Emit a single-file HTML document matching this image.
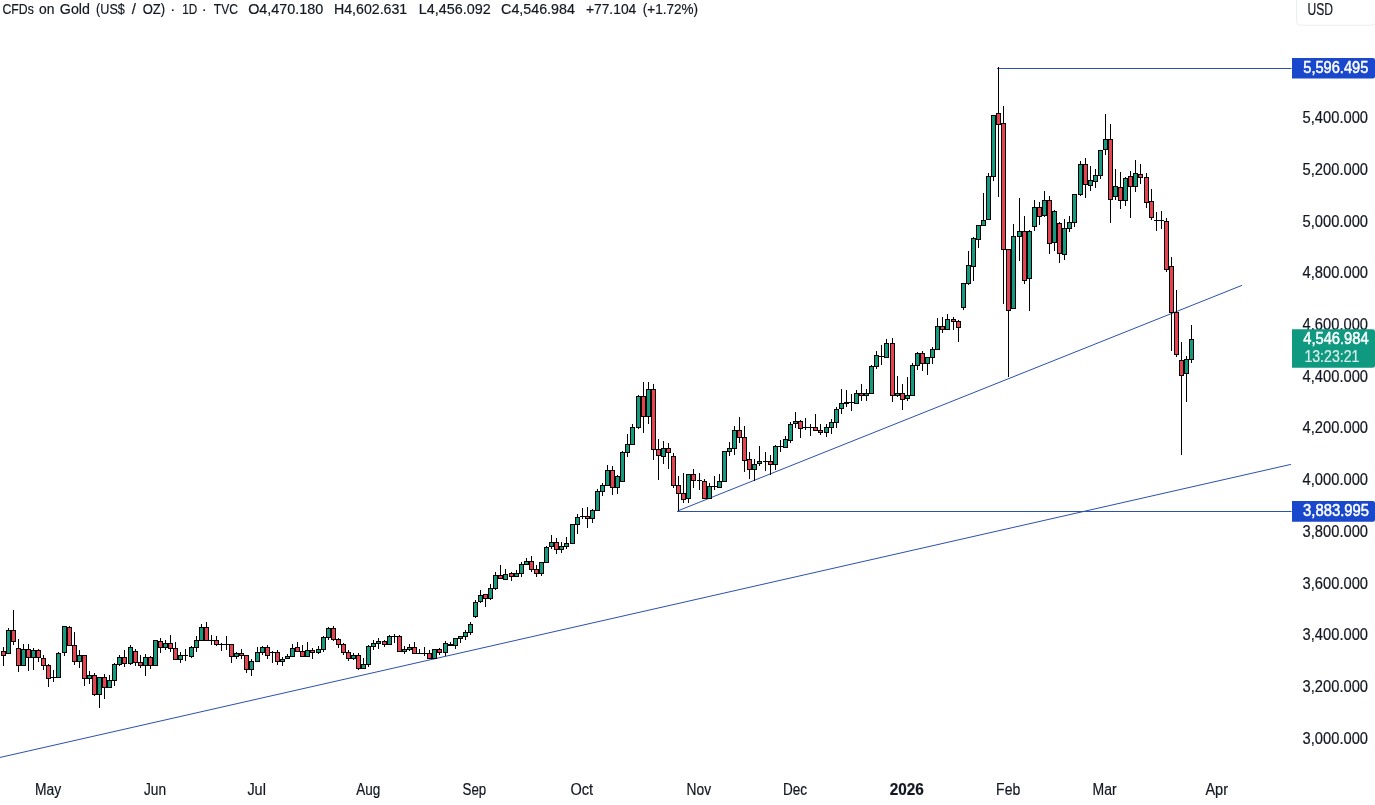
<!DOCTYPE html>
<html lang="en"><head><meta charset="utf-8"><title>CFDs on Gold (US$ / OZ) 1D TVC</title>
<style>
html,body{margin:0;padding:0;background:#fff;}
body{width:1375px;height:805px;overflow:hidden;}
svg{display:block;font-family:"Liberation Sans", Arial, sans-serif;}
</style></head><body>
<svg width="1375" height="805" viewBox="0 0 1375 805">
<rect width="1375" height="805" fill="#fff"/>

<g stroke="#2b50b0" stroke-width="1" fill="none">
<line x1="-2" y1="757.9" x2="1290.9" y2="464.4"/>
<line x1="678.5" y1="510.6" x2="1242.1" y2="285.3"/>
</g>
<rect x="997" y="68" width="294.5" height="1" fill="#2b50b0"/>
<rect x="677" y="511" width="614.5" height="1" fill="#2b50b0"/>

<g fill="#000">
<rect x="3" y="647" width="1" height="4"/>
<rect x="3" y="656" width="1" height="10"/>
<rect x="1" y="651" width="5" height="5"/>
<rect x="2" y="652" width="3" height="3" fill="#e4434f"/>
<rect x="8" y="628" width="1" height="2"/>
<rect x="6" y="630" width="5" height="24"/>
<rect x="7" y="631" width="3" height="22" fill="#159a7f"/>
<rect x="13" y="610" width="1" height="20"/>
<rect x="13" y="642" width="1" height="3"/>
<rect x="11" y="630" width="5" height="12"/>
<rect x="12" y="631" width="3" height="10" fill="#e4434f"/>
<rect x="18" y="639" width="1" height="9"/>
<rect x="18" y="666" width="1" height="6"/>
<rect x="16" y="648" width="5" height="18"/>
<rect x="17" y="649" width="3" height="16" fill="#e4434f"/>
<rect x="23" y="644" width="1" height="5"/>
<rect x="21" y="649" width="5" height="17"/>
<rect x="22" y="650" width="3" height="15" fill="#159a7f"/>
<rect x="28" y="644" width="1" height="5"/>
<rect x="28" y="658" width="1" height="13"/>
<rect x="26" y="649" width="5" height="9"/>
<rect x="27" y="650" width="3" height="7" fill="#e4434f"/>
<rect x="33" y="648" width="1" height="2"/>
<rect x="33" y="658" width="1" height="12"/>
<rect x="31" y="650" width="5" height="8"/>
<rect x="32" y="651" width="3" height="6" fill="#159a7f"/>
<rect x="38" y="649" width="1" height="1"/>
<rect x="38" y="658" width="1" height="4"/>
<rect x="36" y="650" width="5" height="8"/>
<rect x="37" y="651" width="3" height="6" fill="#e4434f"/>
<rect x="43" y="655" width="1" height="3"/>
<rect x="43" y="666" width="1" height="4"/>
<rect x="41" y="658" width="5" height="8"/>
<rect x="42" y="659" width="3" height="6" fill="#e4434f"/>
<rect x="48" y="664" width="1" height="1"/>
<rect x="48" y="679" width="1" height="8"/>
<rect x="46" y="665" width="5" height="14"/>
<rect x="47" y="666" width="3" height="12" fill="#e4434f"/>
<rect x="53" y="670" width="1" height="7"/>
<rect x="53" y="678" width="1" height="4"/>
<rect x="51" y="677" width="5" height="1"/>
<rect x="58" y="652" width="1" height="1"/>
<rect x="56" y="653" width="5" height="25"/>
<rect x="57" y="654" width="3" height="23" fill="#159a7f"/>
<rect x="64" y="653" width="1" height="3"/>
<rect x="62" y="626" width="5" height="27"/>
<rect x="63" y="627" width="3" height="25" fill="#159a7f"/>
<rect x="69" y="626" width="1" height="1"/>
<rect x="67" y="627" width="5" height="19"/>
<rect x="68" y="628" width="3" height="17" fill="#e4434f"/>
<rect x="74" y="632" width="1" height="13"/>
<rect x="74" y="662" width="1" height="3"/>
<rect x="72" y="645" width="5" height="17"/>
<rect x="73" y="646" width="3" height="15" fill="#e4434f"/>
<rect x="79" y="650" width="1" height="5"/>
<rect x="79" y="662" width="1" height="6"/>
<rect x="77" y="655" width="5" height="7"/>
<rect x="78" y="656" width="3" height="5" fill="#159a7f"/>
<rect x="84" y="679" width="1" height="7"/>
<rect x="82" y="655" width="5" height="24"/>
<rect x="83" y="656" width="3" height="22" fill="#e4434f"/>
<rect x="89" y="671" width="1" height="4"/>
<rect x="89" y="679" width="1" height="5"/>
<rect x="87" y="675" width="5" height="4"/>
<rect x="88" y="676" width="3" height="2" fill="#159a7f"/>
<rect x="94" y="673" width="1" height="2"/>
<rect x="94" y="695" width="1" height="1"/>
<rect x="92" y="675" width="5" height="20"/>
<rect x="93" y="676" width="3" height="18" fill="#e4434f"/>
<rect x="99" y="695" width="1" height="13"/>
<rect x="97" y="677" width="5" height="18"/>
<rect x="98" y="678" width="3" height="16" fill="#159a7f"/>
<rect x="104" y="674" width="1" height="3"/>
<rect x="104" y="688" width="1" height="11"/>
<rect x="102" y="677" width="5" height="11"/>
<rect x="103" y="678" width="3" height="9" fill="#e4434f"/>
<rect x="109" y="675" width="1" height="5"/>
<rect x="107" y="680" width="5" height="8"/>
<rect x="108" y="681" width="3" height="6" fill="#159a7f"/>
<rect x="114" y="663" width="1" height="1"/>
<rect x="114" y="681" width="1" height="5"/>
<rect x="112" y="664" width="5" height="17"/>
<rect x="113" y="665" width="3" height="15" fill="#159a7f"/>
<rect x="119" y="655" width="1" height="2"/>
<rect x="119" y="665" width="1" height="1"/>
<rect x="117" y="657" width="5" height="8"/>
<rect x="118" y="658" width="3" height="6" fill="#159a7f"/>
<rect x="124" y="650" width="1" height="7"/>
<rect x="124" y="664" width="1" height="3"/>
<rect x="122" y="657" width="5" height="7"/>
<rect x="123" y="658" width="3" height="5" fill="#e4434f"/>
<rect x="130" y="645" width="1" height="2"/>
<rect x="130" y="664" width="1" height="1"/>
<rect x="128" y="647" width="5" height="17"/>
<rect x="129" y="648" width="3" height="15" fill="#159a7f"/>
<rect x="135" y="649" width="1" height="2"/>
<rect x="135" y="663" width="1" height="3"/>
<rect x="133" y="651" width="5" height="12"/>
<rect x="134" y="652" width="3" height="10" fill="#e4434f"/>
<rect x="140" y="655" width="1" height="7"/>
<rect x="140" y="666" width="1" height="2"/>
<rect x="138" y="662" width="5" height="4"/>
<rect x="139" y="663" width="3" height="2" fill="#e4434f"/>
<rect x="145" y="654" width="1" height="3"/>
<rect x="145" y="666" width="1" height="10"/>
<rect x="143" y="657" width="5" height="9"/>
<rect x="144" y="658" width="3" height="7" fill="#159a7f"/>
<rect x="150" y="656" width="1" height="1"/>
<rect x="150" y="666" width="1" height="3"/>
<rect x="148" y="657" width="5" height="9"/>
<rect x="149" y="658" width="3" height="7" fill="#e4434f"/>
<rect x="153" y="640" width="5" height="26"/>
<rect x="154" y="641" width="3" height="24" fill="#159a7f"/>
<rect x="160" y="638" width="1" height="3"/>
<rect x="160" y="648" width="1" height="5"/>
<rect x="158" y="641" width="5" height="7"/>
<rect x="159" y="642" width="3" height="5" fill="#e4434f"/>
<rect x="165" y="640" width="1" height="3"/>
<rect x="165" y="648" width="1" height="2"/>
<rect x="163" y="643" width="5" height="5"/>
<rect x="164" y="644" width="3" height="3" fill="#159a7f"/>
<rect x="170" y="635" width="1" height="8"/>
<rect x="170" y="649" width="1" height="3"/>
<rect x="168" y="643" width="5" height="6"/>
<rect x="169" y="644" width="3" height="4" fill="#e4434f"/>
<rect x="175" y="642" width="1" height="6"/>
<rect x="173" y="648" width="5" height="12"/>
<rect x="174" y="649" width="3" height="10" fill="#e4434f"/>
<rect x="180" y="652" width="1" height="3"/>
<rect x="180" y="660" width="1" height="3"/>
<rect x="178" y="655" width="5" height="5"/>
<rect x="179" y="656" width="3" height="3" fill="#159a7f"/>
<rect x="185" y="649" width="1" height="6"/>
<rect x="185" y="656" width="1" height="5"/>
<rect x="183" y="655" width="5" height="1"/>
<rect x="191" y="646" width="1" height="1"/>
<rect x="191" y="657" width="1" height="1"/>
<rect x="189" y="647" width="5" height="10"/>
<rect x="190" y="648" width="3" height="8" fill="#159a7f"/>
<rect x="196" y="636" width="1" height="4"/>
<rect x="196" y="648" width="1" height="4"/>
<rect x="194" y="640" width="5" height="8"/>
<rect x="195" y="641" width="3" height="6" fill="#159a7f"/>
<rect x="201" y="624" width="1" height="3"/>
<rect x="199" y="627" width="5" height="14"/>
<rect x="200" y="628" width="3" height="12" fill="#159a7f"/>
<rect x="206" y="622" width="1" height="5"/>
<rect x="204" y="627" width="5" height="14"/>
<rect x="205" y="628" width="3" height="12" fill="#e4434f"/>
<rect x="211" y="635" width="1" height="5"/>
<rect x="211" y="641" width="1" height="4"/>
<rect x="209" y="640" width="5" height="1"/>
<rect x="216" y="636" width="1" height="4"/>
<rect x="216" y="645" width="1" height="1"/>
<rect x="214" y="640" width="5" height="5"/>
<rect x="215" y="641" width="3" height="3" fill="#e4434f"/>
<rect x="221" y="643" width="1" height="1"/>
<rect x="221" y="645" width="1" height="6"/>
<rect x="219" y="644" width="5" height="1"/>
<rect x="226" y="636" width="1" height="8"/>
<rect x="226" y="645" width="1" height="5"/>
<rect x="224" y="644" width="5" height="1"/>
<rect x="231" y="657" width="1" height="6"/>
<rect x="229" y="644" width="5" height="13"/>
<rect x="230" y="645" width="3" height="11" fill="#e4434f"/>
<rect x="236" y="652" width="1" height="1"/>
<rect x="236" y="657" width="1" height="2"/>
<rect x="234" y="653" width="5" height="4"/>
<rect x="235" y="654" width="3" height="2" fill="#159a7f"/>
<rect x="241" y="649" width="1" height="4"/>
<rect x="241" y="656" width="1" height="3"/>
<rect x="239" y="653" width="5" height="3"/>
<rect x="240" y="654" width="3" height="1" fill="#e4434f"/>
<rect x="246" y="670" width="1" height="3"/>
<rect x="244" y="655" width="5" height="15"/>
<rect x="245" y="656" width="3" height="13" fill="#e4434f"/>
<rect x="251" y="659" width="1" height="2"/>
<rect x="251" y="670" width="1" height="6"/>
<rect x="249" y="661" width="5" height="9"/>
<rect x="250" y="662" width="3" height="7" fill="#159a7f"/>
<rect x="257" y="647" width="1" height="5"/>
<rect x="255" y="652" width="5" height="10"/>
<rect x="256" y="653" width="3" height="8" fill="#159a7f"/>
<rect x="262" y="646" width="1" height="1"/>
<rect x="262" y="653" width="1" height="2"/>
<rect x="260" y="647" width="5" height="6"/>
<rect x="261" y="648" width="3" height="4" fill="#159a7f"/>
<rect x="267" y="645" width="1" height="2"/>
<rect x="267" y="656" width="1" height="3"/>
<rect x="265" y="647" width="5" height="9"/>
<rect x="266" y="648" width="3" height="7" fill="#e4434f"/>
<rect x="272" y="651" width="1" height="1"/>
<rect x="272" y="653" width="1" height="10"/>
<rect x="270" y="652" width="5" height="1"/>
<rect x="277" y="650" width="1" height="2"/>
<rect x="277" y="662" width="1" height="3"/>
<rect x="275" y="652" width="5" height="10"/>
<rect x="276" y="653" width="3" height="8" fill="#e4434f"/>
<rect x="282" y="657" width="1" height="2"/>
<rect x="282" y="662" width="1" height="4"/>
<rect x="280" y="659" width="5" height="3"/>
<rect x="281" y="660" width="3" height="1" fill="#159a7f"/>
<rect x="287" y="654" width="1" height="2"/>
<rect x="285" y="656" width="5" height="3"/>
<rect x="286" y="657" width="3" height="1" fill="#159a7f"/>
<rect x="292" y="644" width="1" height="4"/>
<rect x="290" y="648" width="5" height="9"/>
<rect x="291" y="649" width="3" height="7" fill="#159a7f"/>
<rect x="297" y="642" width="1" height="5"/>
<rect x="295" y="647" width="5" height="5"/>
<rect x="296" y="648" width="3" height="3" fill="#e4434f"/>
<rect x="302" y="645" width="1" height="6"/>
<rect x="300" y="651" width="5" height="6"/>
<rect x="301" y="652" width="3" height="4" fill="#e4434f"/>
<rect x="307" y="642" width="1" height="8"/>
<rect x="305" y="650" width="5" height="7"/>
<rect x="306" y="651" width="3" height="5" fill="#159a7f"/>
<rect x="312" y="648" width="1" height="2"/>
<rect x="312" y="653" width="1" height="6"/>
<rect x="310" y="650" width="5" height="3"/>
<rect x="311" y="651" width="3" height="1" fill="#e4434f"/>
<rect x="318" y="646" width="1" height="3"/>
<rect x="318" y="653" width="1" height="1"/>
<rect x="316" y="649" width="5" height="4"/>
<rect x="317" y="650" width="3" height="2" fill="#159a7f"/>
<rect x="323" y="636" width="1" height="1"/>
<rect x="323" y="650" width="1" height="2"/>
<rect x="321" y="637" width="5" height="13"/>
<rect x="322" y="638" width="3" height="11" fill="#159a7f"/>
<rect x="328" y="627" width="1" height="1"/>
<rect x="328" y="638" width="1" height="2"/>
<rect x="326" y="628" width="5" height="10"/>
<rect x="327" y="629" width="3" height="8" fill="#159a7f"/>
<rect x="333" y="626" width="1" height="2"/>
<rect x="333" y="640" width="1" height="1"/>
<rect x="331" y="628" width="5" height="12"/>
<rect x="332" y="629" width="3" height="10" fill="#e4434f"/>
<rect x="338" y="638" width="1" height="1"/>
<rect x="338" y="645" width="1" height="3"/>
<rect x="336" y="639" width="5" height="6"/>
<rect x="337" y="640" width="3" height="4" fill="#e4434f"/>
<rect x="343" y="643" width="1" height="1"/>
<rect x="343" y="653" width="1" height="2"/>
<rect x="341" y="644" width="5" height="9"/>
<rect x="342" y="645" width="3" height="7" fill="#e4434f"/>
<rect x="348" y="650" width="1" height="2"/>
<rect x="348" y="659" width="1" height="2"/>
<rect x="346" y="652" width="5" height="7"/>
<rect x="347" y="653" width="3" height="5" fill="#e4434f"/>
<rect x="353" y="653" width="1" height="2"/>
<rect x="353" y="659" width="1" height="1"/>
<rect x="351" y="655" width="5" height="4"/>
<rect x="352" y="656" width="3" height="2" fill="#159a7f"/>
<rect x="358" y="653" width="1" height="2"/>
<rect x="358" y="669" width="1" height="1"/>
<rect x="356" y="655" width="5" height="14"/>
<rect x="357" y="656" width="3" height="12" fill="#e4434f"/>
<rect x="363" y="658" width="1" height="6"/>
<rect x="361" y="664" width="5" height="5"/>
<rect x="362" y="665" width="3" height="3" fill="#159a7f"/>
<rect x="368" y="645" width="1" height="1"/>
<rect x="368" y="665" width="1" height="2"/>
<rect x="366" y="646" width="5" height="19"/>
<rect x="367" y="647" width="3" height="17" fill="#159a7f"/>
<rect x="373" y="640" width="1" height="3"/>
<rect x="373" y="647" width="1" height="3"/>
<rect x="371" y="643" width="5" height="4"/>
<rect x="372" y="644" width="3" height="2" fill="#159a7f"/>
<rect x="378" y="638" width="1" height="3"/>
<rect x="378" y="644" width="1" height="5"/>
<rect x="376" y="641" width="5" height="3"/>
<rect x="377" y="642" width="3" height="1" fill="#159a7f"/>
<rect x="384" y="640" width="1" height="1"/>
<rect x="384" y="645" width="1" height="2"/>
<rect x="382" y="641" width="5" height="4"/>
<rect x="383" y="642" width="3" height="2" fill="#e4434f"/>
<rect x="389" y="635" width="1" height="1"/>
<rect x="387" y="636" width="5" height="9"/>
<rect x="388" y="637" width="3" height="7" fill="#159a7f"/>
<rect x="394" y="634" width="1" height="2"/>
<rect x="394" y="637" width="1" height="6"/>
<rect x="392" y="636" width="5" height="1"/>
<rect x="399" y="635" width="1" height="1"/>
<rect x="397" y="636" width="5" height="16"/>
<rect x="398" y="637" width="3" height="14" fill="#e4434f"/>
<rect x="404" y="646" width="1" height="3"/>
<rect x="404" y="652" width="1" height="2"/>
<rect x="402" y="649" width="5" height="3"/>
<rect x="403" y="650" width="3" height="1" fill="#159a7f"/>
<rect x="409" y="644" width="1" height="3"/>
<rect x="409" y="650" width="1" height="1"/>
<rect x="407" y="647" width="5" height="3"/>
<rect x="408" y="648" width="3" height="1" fill="#159a7f"/>
<rect x="414" y="642" width="1" height="5"/>
<rect x="412" y="647" width="5" height="7"/>
<rect x="413" y="648" width="3" height="5" fill="#e4434f"/>
<rect x="419" y="649" width="1" height="4"/>
<rect x="417" y="653" width="5" height="1"/>
<rect x="424" y="647" width="1" height="6"/>
<rect x="424" y="654" width="1" height="2"/>
<rect x="422" y="653" width="5" height="1"/>
<rect x="429" y="650" width="1" height="3"/>
<rect x="427" y="653" width="5" height="6"/>
<rect x="428" y="654" width="3" height="4" fill="#e4434f"/>
<rect x="432" y="649" width="5" height="10"/>
<rect x="433" y="650" width="3" height="8" fill="#159a7f"/>
<rect x="439" y="648" width="1" height="1"/>
<rect x="439" y="653" width="1" height="2"/>
<rect x="437" y="649" width="5" height="4"/>
<rect x="438" y="650" width="3" height="2" fill="#e4434f"/>
<rect x="445" y="641" width="1" height="2"/>
<rect x="445" y="653" width="1" height="3"/>
<rect x="443" y="643" width="5" height="10"/>
<rect x="444" y="644" width="3" height="8" fill="#159a7f"/>
<rect x="450" y="642" width="1" height="2"/>
<rect x="448" y="644" width="5" height="2"/>
<rect x="455" y="646" width="1" height="3"/>
<rect x="453" y="638" width="5" height="8"/>
<rect x="454" y="639" width="3" height="6" fill="#159a7f"/>
<rect x="460" y="639" width="1" height="4"/>
<rect x="458" y="636" width="5" height="3"/>
<rect x="459" y="637" width="3" height="1" fill="#159a7f"/>
<rect x="465" y="630" width="1" height="2"/>
<rect x="465" y="637" width="1" height="3"/>
<rect x="463" y="632" width="5" height="5"/>
<rect x="464" y="633" width="3" height="3" fill="#159a7f"/>
<rect x="470" y="622" width="1" height="2"/>
<rect x="470" y="633" width="1" height="2"/>
<rect x="468" y="624" width="5" height="9"/>
<rect x="469" y="625" width="3" height="7" fill="#159a7f"/>
<rect x="475" y="600" width="1" height="2"/>
<rect x="475" y="617" width="1" height="1"/>
<rect x="473" y="602" width="5" height="15"/>
<rect x="474" y="603" width="3" height="13" fill="#159a7f"/>
<rect x="480" y="590" width="1" height="5"/>
<rect x="480" y="602" width="1" height="1"/>
<rect x="478" y="595" width="5" height="7"/>
<rect x="479" y="596" width="3" height="5" fill="#159a7f"/>
<rect x="485" y="599" width="1" height="8"/>
<rect x="483" y="594" width="5" height="5"/>
<rect x="484" y="595" width="3" height="3" fill="#e4434f"/>
<rect x="490" y="584" width="1" height="4"/>
<rect x="490" y="599" width="1" height="1"/>
<rect x="488" y="588" width="5" height="11"/>
<rect x="489" y="589" width="3" height="9" fill="#159a7f"/>
<rect x="495" y="572" width="1" height="3"/>
<rect x="495" y="589" width="1" height="1"/>
<rect x="493" y="575" width="5" height="14"/>
<rect x="494" y="576" width="3" height="12" fill="#159a7f"/>
<rect x="500" y="565" width="1" height="10"/>
<rect x="498" y="575" width="5" height="4"/>
<rect x="499" y="576" width="3" height="2" fill="#e4434f"/>
<rect x="505" y="569" width="1" height="5"/>
<rect x="503" y="574" width="5" height="6"/>
<rect x="504" y="575" width="3" height="4" fill="#159a7f"/>
<rect x="511" y="572" width="1" height="1"/>
<rect x="511" y="577" width="1" height="4"/>
<rect x="509" y="573" width="5" height="4"/>
<rect x="510" y="574" width="3" height="2" fill="#e4434f"/>
<rect x="516" y="570" width="1" height="3"/>
<rect x="514" y="573" width="5" height="4"/>
<rect x="515" y="574" width="3" height="2" fill="#159a7f"/>
<rect x="521" y="562" width="1" height="2"/>
<rect x="521" y="574" width="1" height="3"/>
<rect x="519" y="564" width="5" height="10"/>
<rect x="520" y="565" width="3" height="8" fill="#159a7f"/>
<rect x="526" y="558" width="1" height="3"/>
<rect x="524" y="561" width="5" height="4"/>
<rect x="525" y="562" width="3" height="2" fill="#159a7f"/>
<rect x="531" y="556" width="1" height="5"/>
<rect x="531" y="570" width="1" height="2"/>
<rect x="529" y="561" width="5" height="9"/>
<rect x="530" y="562" width="3" height="7" fill="#e4434f"/>
<rect x="536" y="565" width="1" height="4"/>
<rect x="536" y="574" width="1" height="3"/>
<rect x="534" y="569" width="5" height="5"/>
<rect x="535" y="570" width="3" height="3" fill="#e4434f"/>
<rect x="541" y="574" width="1" height="2"/>
<rect x="539" y="562" width="5" height="12"/>
<rect x="540" y="563" width="3" height="10" fill="#159a7f"/>
<rect x="546" y="546" width="1" height="1"/>
<rect x="544" y="547" width="5" height="16"/>
<rect x="545" y="548" width="3" height="14" fill="#159a7f"/>
<rect x="551" y="535" width="1" height="7"/>
<rect x="551" y="547" width="1" height="2"/>
<rect x="549" y="542" width="5" height="5"/>
<rect x="550" y="543" width="3" height="3" fill="#159a7f"/>
<rect x="556" y="538" width="1" height="4"/>
<rect x="556" y="550" width="1" height="4"/>
<rect x="554" y="542" width="5" height="8"/>
<rect x="555" y="543" width="3" height="6" fill="#e4434f"/>
<rect x="561" y="542" width="1" height="4"/>
<rect x="561" y="550" width="1" height="3"/>
<rect x="559" y="546" width="5" height="4"/>
<rect x="560" y="547" width="3" height="2" fill="#159a7f"/>
<rect x="566" y="537" width="1" height="6"/>
<rect x="566" y="547" width="1" height="2"/>
<rect x="564" y="543" width="5" height="4"/>
<rect x="565" y="544" width="3" height="2" fill="#159a7f"/>
<rect x="570" y="524" width="5" height="20"/>
<rect x="571" y="525" width="3" height="18" fill="#159a7f"/>
<rect x="577" y="514" width="1" height="3"/>
<rect x="577" y="525" width="1" height="9"/>
<rect x="575" y="517" width="5" height="8"/>
<rect x="576" y="518" width="3" height="6" fill="#159a7f"/>
<rect x="582" y="508" width="1" height="8"/>
<rect x="582" y="517" width="1" height="2"/>
<rect x="580" y="516" width="5" height="1"/>
<rect x="587" y="507" width="1" height="9"/>
<rect x="587" y="519" width="1" height="9"/>
<rect x="585" y="516" width="5" height="3"/>
<rect x="586" y="517" width="3" height="1" fill="#e4434f"/>
<rect x="592" y="509" width="1" height="1"/>
<rect x="592" y="519" width="1" height="4"/>
<rect x="590" y="510" width="5" height="9"/>
<rect x="591" y="511" width="3" height="7" fill="#159a7f"/>
<rect x="597" y="489" width="1" height="2"/>
<rect x="595" y="491" width="5" height="20"/>
<rect x="596" y="492" width="3" height="18" fill="#159a7f"/>
<rect x="602" y="483" width="1" height="2"/>
<rect x="602" y="492" width="1" height="4"/>
<rect x="600" y="485" width="5" height="7"/>
<rect x="601" y="486" width="3" height="5" fill="#159a7f"/>
<rect x="607" y="465" width="1" height="5"/>
<rect x="605" y="470" width="5" height="16"/>
<rect x="606" y="471" width="3" height="14" fill="#159a7f"/>
<rect x="612" y="466" width="1" height="4"/>
<rect x="612" y="488" width="1" height="7"/>
<rect x="610" y="470" width="5" height="18"/>
<rect x="611" y="471" width="3" height="16" fill="#e4434f"/>
<rect x="617" y="475" width="1" height="1"/>
<rect x="617" y="488" width="1" height="6"/>
<rect x="615" y="476" width="5" height="12"/>
<rect x="616" y="477" width="3" height="10" fill="#159a7f"/>
<rect x="622" y="451" width="1" height="1"/>
<rect x="620" y="452" width="5" height="30"/>
<rect x="621" y="453" width="3" height="28" fill="#159a7f"/>
<rect x="627" y="434" width="1" height="10"/>
<rect x="627" y="453" width="1" height="4"/>
<rect x="625" y="444" width="5" height="9"/>
<rect x="626" y="445" width="3" height="7" fill="#159a7f"/>
<rect x="632" y="424" width="1" height="3"/>
<rect x="630" y="427" width="5" height="18"/>
<rect x="631" y="428" width="3" height="16" fill="#159a7f"/>
<rect x="638" y="395" width="1" height="1"/>
<rect x="638" y="428" width="1" height="1"/>
<rect x="636" y="396" width="5" height="32"/>
<rect x="637" y="397" width="3" height="30" fill="#159a7f"/>
<rect x="643" y="382" width="1" height="14"/>
<rect x="643" y="417" width="1" height="16"/>
<rect x="641" y="396" width="5" height="21"/>
<rect x="642" y="397" width="3" height="19" fill="#e4434f"/>
<rect x="648" y="382" width="1" height="7"/>
<rect x="648" y="417" width="1" height="7"/>
<rect x="646" y="389" width="5" height="28"/>
<rect x="647" y="390" width="3" height="26" fill="#159a7f"/>
<rect x="653" y="384" width="1" height="5"/>
<rect x="653" y="450" width="1" height="10"/>
<rect x="651" y="389" width="5" height="61"/>
<rect x="652" y="390" width="3" height="59" fill="#e4434f"/>
<rect x="658" y="439" width="1" height="10"/>
<rect x="658" y="456" width="1" height="24"/>
<rect x="656" y="449" width="5" height="7"/>
<rect x="657" y="450" width="3" height="5" fill="#e4434f"/>
<rect x="663" y="441" width="1" height="7"/>
<rect x="663" y="457" width="1" height="7"/>
<rect x="661" y="448" width="5" height="9"/>
<rect x="662" y="449" width="3" height="7" fill="#159a7f"/>
<rect x="668" y="443" width="1" height="5"/>
<rect x="668" y="453" width="1" height="16"/>
<rect x="666" y="448" width="5" height="5"/>
<rect x="667" y="449" width="3" height="3" fill="#e4434f"/>
<rect x="673" y="453" width="1" height="3"/>
<rect x="673" y="486" width="1" height="2"/>
<rect x="671" y="456" width="5" height="30"/>
<rect x="672" y="457" width="3" height="28" fill="#e4434f"/>
<rect x="678" y="476" width="1" height="9"/>
<rect x="678" y="494" width="1" height="17"/>
<rect x="676" y="485" width="5" height="9"/>
<rect x="677" y="486" width="3" height="7" fill="#e4434f"/>
<rect x="683" y="473" width="1" height="20"/>
<rect x="683" y="500" width="1" height="3"/>
<rect x="681" y="493" width="5" height="7"/>
<rect x="682" y="494" width="3" height="5" fill="#e4434f"/>
<rect x="688" y="499" width="1" height="4"/>
<rect x="686" y="474" width="5" height="25"/>
<rect x="687" y="475" width="3" height="23" fill="#159a7f"/>
<rect x="693" y="469" width="1" height="5"/>
<rect x="693" y="481" width="1" height="7"/>
<rect x="691" y="474" width="5" height="7"/>
<rect x="692" y="475" width="3" height="5" fill="#e4434f"/>
<rect x="699" y="473" width="1" height="7"/>
<rect x="699" y="481" width="1" height="9"/>
<rect x="697" y="480" width="5" height="1"/>
<rect x="704" y="479" width="1" height="2"/>
<rect x="702" y="481" width="5" height="18"/>
<rect x="703" y="482" width="3" height="16" fill="#e4434f"/>
<rect x="709" y="483" width="1" height="3"/>
<rect x="707" y="486" width="5" height="13"/>
<rect x="708" y="487" width="3" height="11" fill="#159a7f"/>
<rect x="714" y="476" width="1" height="10"/>
<rect x="714" y="487" width="1" height="3"/>
<rect x="712" y="486" width="5" height="1"/>
<rect x="719" y="474" width="1" height="7"/>
<rect x="717" y="481" width="5" height="7"/>
<rect x="718" y="482" width="3" height="5" fill="#159a7f"/>
<rect x="722" y="451" width="5" height="31"/>
<rect x="723" y="452" width="3" height="29" fill="#159a7f"/>
<rect x="729" y="442" width="1" height="6"/>
<rect x="729" y="452" width="1" height="4"/>
<rect x="727" y="448" width="5" height="4"/>
<rect x="728" y="449" width="3" height="2" fill="#159a7f"/>
<rect x="734" y="426" width="1" height="4"/>
<rect x="734" y="449" width="1" height="6"/>
<rect x="732" y="430" width="5" height="19"/>
<rect x="733" y="431" width="3" height="17" fill="#159a7f"/>
<rect x="739" y="417" width="1" height="13"/>
<rect x="739" y="438" width="1" height="5"/>
<rect x="737" y="430" width="5" height="8"/>
<rect x="738" y="431" width="3" height="6" fill="#e4434f"/>
<rect x="744" y="426" width="1" height="11"/>
<rect x="744" y="461" width="1" height="11"/>
<rect x="742" y="437" width="5" height="24"/>
<rect x="743" y="438" width="3" height="22" fill="#e4434f"/>
<rect x="749" y="452" width="1" height="7"/>
<rect x="749" y="470" width="1" height="9"/>
<rect x="747" y="459" width="5" height="11"/>
<rect x="748" y="460" width="3" height="9" fill="#e4434f"/>
<rect x="754" y="459" width="1" height="5"/>
<rect x="754" y="470" width="1" height="11"/>
<rect x="752" y="464" width="5" height="6"/>
<rect x="753" y="465" width="3" height="4" fill="#159a7f"/>
<rect x="759" y="446" width="1" height="15"/>
<rect x="759" y="464" width="1" height="2"/>
<rect x="757" y="461" width="5" height="3"/>
<rect x="758" y="462" width="3" height="1" fill="#159a7f"/>
<rect x="765" y="452" width="1" height="9"/>
<rect x="765" y="462" width="1" height="9"/>
<rect x="763" y="461" width="5" height="1"/>
<rect x="770" y="455" width="1" height="6"/>
<rect x="770" y="465" width="1" height="10"/>
<rect x="768" y="461" width="5" height="4"/>
<rect x="769" y="462" width="3" height="2" fill="#e4434f"/>
<rect x="775" y="445" width="1" height="1"/>
<rect x="775" y="465" width="1" height="5"/>
<rect x="773" y="446" width="5" height="19"/>
<rect x="774" y="447" width="3" height="17" fill="#159a7f"/>
<rect x="780" y="440" width="1" height="6"/>
<rect x="780" y="447" width="1" height="5"/>
<rect x="778" y="446" width="5" height="1"/>
<rect x="785" y="436" width="1" height="3"/>
<rect x="783" y="439" width="5" height="9"/>
<rect x="784" y="440" width="3" height="7" fill="#159a7f"/>
<rect x="790" y="422" width="1" height="2"/>
<rect x="790" y="441" width="1" height="2"/>
<rect x="788" y="424" width="5" height="17"/>
<rect x="789" y="425" width="3" height="15" fill="#159a7f"/>
<rect x="795" y="412" width="1" height="9"/>
<rect x="795" y="424" width="1" height="4"/>
<rect x="793" y="421" width="5" height="3"/>
<rect x="794" y="422" width="3" height="1" fill="#159a7f"/>
<rect x="800" y="420" width="1" height="1"/>
<rect x="800" y="429" width="1" height="9"/>
<rect x="798" y="421" width="5" height="8"/>
<rect x="799" y="422" width="3" height="6" fill="#e4434f"/>
<rect x="805" y="418" width="1" height="9"/>
<rect x="805" y="428" width="1" height="2"/>
<rect x="803" y="427" width="5" height="1"/>
<rect x="810" y="424" width="1" height="3"/>
<rect x="810" y="428" width="1" height="8"/>
<rect x="808" y="427" width="5" height="1"/>
<rect x="815" y="414" width="1" height="13"/>
<rect x="813" y="427" width="5" height="4"/>
<rect x="814" y="428" width="3" height="2" fill="#e4434f"/>
<rect x="820" y="424" width="1" height="6"/>
<rect x="820" y="433" width="1" height="2"/>
<rect x="818" y="430" width="5" height="3"/>
<rect x="819" y="431" width="3" height="1" fill="#e4434f"/>
<rect x="826" y="424" width="1" height="3"/>
<rect x="826" y="433" width="1" height="4"/>
<rect x="824" y="427" width="5" height="6"/>
<rect x="825" y="428" width="3" height="4" fill="#159a7f"/>
<rect x="831" y="419" width="1" height="3"/>
<rect x="831" y="428" width="1" height="6"/>
<rect x="829" y="422" width="5" height="6"/>
<rect x="830" y="423" width="3" height="4" fill="#159a7f"/>
<rect x="836" y="407" width="1" height="2"/>
<rect x="836" y="423" width="1" height="5"/>
<rect x="834" y="409" width="5" height="14"/>
<rect x="835" y="410" width="3" height="12" fill="#159a7f"/>
<rect x="841" y="389" width="1" height="14"/>
<rect x="841" y="409" width="1" height="5"/>
<rect x="839" y="403" width="5" height="6"/>
<rect x="840" y="404" width="3" height="4" fill="#159a7f"/>
<rect x="846" y="390" width="1" height="12"/>
<rect x="846" y="404" width="1" height="3"/>
<rect x="844" y="402" width="5" height="2"/>
<rect x="851" y="394" width="1" height="8"/>
<rect x="851" y="403" width="1" height="8"/>
<rect x="849" y="402" width="5" height="1"/>
<rect x="856" y="390" width="1" height="3"/>
<rect x="854" y="393" width="5" height="11"/>
<rect x="855" y="394" width="3" height="9" fill="#159a7f"/>
<rect x="861" y="384" width="1" height="9"/>
<rect x="861" y="396" width="1" height="5"/>
<rect x="859" y="393" width="5" height="3"/>
<rect x="860" y="394" width="3" height="1" fill="#e4434f"/>
<rect x="866" y="389" width="1" height="4"/>
<rect x="866" y="396" width="1" height="5"/>
<rect x="864" y="393" width="5" height="3"/>
<rect x="865" y="394" width="3" height="1" fill="#159a7f"/>
<rect x="871" y="365" width="1" height="1"/>
<rect x="869" y="366" width="5" height="28"/>
<rect x="870" y="367" width="3" height="26" fill="#159a7f"/>
<rect x="876" y="351" width="1" height="4"/>
<rect x="876" y="367" width="1" height="2"/>
<rect x="874" y="355" width="5" height="12"/>
<rect x="875" y="356" width="3" height="10" fill="#159a7f"/>
<rect x="881" y="345" width="1" height="11"/>
<rect x="881" y="357" width="1" height="8"/>
<rect x="879" y="356" width="5" height="1"/>
<rect x="886" y="339" width="1" height="4"/>
<rect x="884" y="343" width="5" height="15"/>
<rect x="885" y="344" width="3" height="13" fill="#159a7f"/>
<rect x="892" y="338" width="1" height="5"/>
<rect x="892" y="396" width="1" height="6"/>
<rect x="890" y="343" width="5" height="53"/>
<rect x="891" y="344" width="3" height="51" fill="#e4434f"/>
<rect x="897" y="376" width="1" height="17"/>
<rect x="897" y="396" width="1" height="1"/>
<rect x="895" y="393" width="5" height="3"/>
<rect x="896" y="394" width="3" height="1" fill="#159a7f"/>
<rect x="902" y="384" width="1" height="9"/>
<rect x="902" y="400" width="1" height="10"/>
<rect x="900" y="393" width="5" height="7"/>
<rect x="901" y="394" width="3" height="5" fill="#e4434f"/>
<rect x="907" y="377" width="1" height="18"/>
<rect x="907" y="399" width="1" height="2"/>
<rect x="905" y="395" width="5" height="4"/>
<rect x="906" y="396" width="3" height="2" fill="#159a7f"/>
<rect x="912" y="363" width="1" height="2"/>
<rect x="910" y="365" width="5" height="31"/>
<rect x="911" y="366" width="3" height="29" fill="#159a7f"/>
<rect x="917" y="352" width="1" height="1"/>
<rect x="917" y="366" width="1" height="4"/>
<rect x="915" y="353" width="5" height="13"/>
<rect x="916" y="354" width="3" height="11" fill="#159a7f"/>
<rect x="922" y="351" width="1" height="2"/>
<rect x="922" y="364" width="1" height="7"/>
<rect x="920" y="353" width="5" height="11"/>
<rect x="921" y="354" width="3" height="9" fill="#e4434f"/>
<rect x="927" y="364" width="1" height="11"/>
<rect x="925" y="357" width="5" height="7"/>
<rect x="926" y="358" width="3" height="5" fill="#159a7f"/>
<rect x="932" y="347" width="1" height="2"/>
<rect x="932" y="358" width="1" height="6"/>
<rect x="930" y="349" width="5" height="9"/>
<rect x="931" y="350" width="3" height="7" fill="#159a7f"/>
<rect x="937" y="318" width="1" height="8"/>
<rect x="935" y="326" width="5" height="24"/>
<rect x="936" y="327" width="3" height="22" fill="#159a7f"/>
<rect x="942" y="317" width="1" height="9"/>
<rect x="942" y="330" width="1" height="3"/>
<rect x="940" y="326" width="5" height="4"/>
<rect x="941" y="327" width="3" height="2" fill="#e4434f"/>
<rect x="947" y="314" width="1" height="5"/>
<rect x="945" y="319" width="5" height="11"/>
<rect x="946" y="320" width="3" height="9" fill="#159a7f"/>
<rect x="953" y="317" width="1" height="2"/>
<rect x="953" y="322" width="1" height="8"/>
<rect x="951" y="319" width="5" height="3"/>
<rect x="952" y="320" width="3" height="1" fill="#e4434f"/>
<rect x="958" y="320" width="1" height="1"/>
<rect x="958" y="328" width="1" height="14"/>
<rect x="956" y="321" width="5" height="7"/>
<rect x="957" y="322" width="3" height="5" fill="#e4434f"/>
<rect x="963" y="308" width="1" height="2"/>
<rect x="961" y="283" width="5" height="25"/>
<rect x="962" y="284" width="3" height="23" fill="#159a7f"/>
<rect x="968" y="251" width="1" height="14"/>
<rect x="968" y="284" width="1" height="1"/>
<rect x="966" y="265" width="5" height="19"/>
<rect x="967" y="266" width="3" height="17" fill="#159a7f"/>
<rect x="973" y="237" width="1" height="1"/>
<rect x="973" y="267" width="1" height="14"/>
<rect x="971" y="238" width="5" height="29"/>
<rect x="972" y="239" width="3" height="27" fill="#159a7f"/>
<rect x="978" y="240" width="1" height="8"/>
<rect x="976" y="225" width="5" height="15"/>
<rect x="977" y="226" width="3" height="13" fill="#159a7f"/>
<rect x="983" y="193" width="1" height="27"/>
<rect x="981" y="220" width="5" height="6"/>
<rect x="982" y="221" width="3" height="4" fill="#159a7f"/>
<rect x="988" y="173" width="1" height="3"/>
<rect x="986" y="176" width="5" height="44"/>
<rect x="987" y="177" width="3" height="42" fill="#159a7f"/>
<rect x="993" y="177" width="1" height="4"/>
<rect x="991" y="115" width="5" height="62"/>
<rect x="992" y="116" width="3" height="60" fill="#159a7f"/>
<rect x="998" y="67" width="1" height="46"/>
<rect x="998" y="125" width="1" height="72"/>
<rect x="996" y="113" width="5" height="12"/>
<rect x="997" y="114" width="3" height="10" fill="#e4434f"/>
<rect x="1003" y="106" width="1" height="17"/>
<rect x="1003" y="250" width="1" height="54"/>
<rect x="1001" y="123" width="5" height="127"/>
<rect x="1002" y="124" width="3" height="125" fill="#e4434f"/>
<rect x="1008" y="311" width="1" height="66"/>
<rect x="1006" y="249" width="5" height="62"/>
<rect x="1007" y="250" width="3" height="60" fill="#e4434f"/>
<rect x="1013" y="224" width="1" height="12"/>
<rect x="1011" y="236" width="5" height="73"/>
<rect x="1012" y="237" width="3" height="71" fill="#159a7f"/>
<rect x="1019" y="198" width="1" height="33"/>
<rect x="1019" y="237" width="1" height="24"/>
<rect x="1017" y="231" width="5" height="6"/>
<rect x="1018" y="232" width="3" height="4" fill="#159a7f"/>
<rect x="1024" y="216" width="1" height="15"/>
<rect x="1024" y="281" width="1" height="3"/>
<rect x="1022" y="231" width="5" height="50"/>
<rect x="1023" y="232" width="3" height="48" fill="#e4434f"/>
<rect x="1029" y="230" width="1" height="1"/>
<rect x="1029" y="279" width="1" height="32"/>
<rect x="1027" y="231" width="5" height="48"/>
<rect x="1028" y="232" width="3" height="46" fill="#159a7f"/>
<rect x="1034" y="200" width="1" height="7"/>
<rect x="1034" y="227" width="1" height="4"/>
<rect x="1032" y="207" width="5" height="20"/>
<rect x="1033" y="208" width="3" height="18" fill="#159a7f"/>
<rect x="1039" y="202" width="1" height="5"/>
<rect x="1039" y="217" width="1" height="8"/>
<rect x="1037" y="207" width="5" height="10"/>
<rect x="1038" y="208" width="3" height="8" fill="#e4434f"/>
<rect x="1044" y="191" width="1" height="9"/>
<rect x="1044" y="216" width="1" height="1"/>
<rect x="1042" y="200" width="5" height="16"/>
<rect x="1043" y="201" width="3" height="14" fill="#159a7f"/>
<rect x="1049" y="196" width="1" height="4"/>
<rect x="1049" y="244" width="1" height="10"/>
<rect x="1047" y="200" width="5" height="44"/>
<rect x="1048" y="201" width="3" height="42" fill="#e4434f"/>
<rect x="1054" y="210" width="1" height="1"/>
<rect x="1054" y="243" width="1" height="8"/>
<rect x="1052" y="211" width="5" height="32"/>
<rect x="1053" y="212" width="3" height="30" fill="#159a7f"/>
<rect x="1059" y="222" width="1" height="1"/>
<rect x="1059" y="254" width="1" height="9"/>
<rect x="1057" y="223" width="5" height="31"/>
<rect x="1058" y="224" width="3" height="29" fill="#e4434f"/>
<rect x="1064" y="219" width="1" height="9"/>
<rect x="1064" y="255" width="1" height="5"/>
<rect x="1062" y="228" width="5" height="27"/>
<rect x="1063" y="229" width="3" height="25" fill="#159a7f"/>
<rect x="1069" y="216" width="1" height="6"/>
<rect x="1069" y="229" width="1" height="3"/>
<rect x="1067" y="222" width="5" height="7"/>
<rect x="1068" y="223" width="3" height="5" fill="#159a7f"/>
<rect x="1074" y="223" width="1" height="4"/>
<rect x="1072" y="194" width="5" height="29"/>
<rect x="1073" y="195" width="3" height="27" fill="#159a7f"/>
<rect x="1080" y="161" width="1" height="3"/>
<rect x="1080" y="195" width="1" height="1"/>
<rect x="1078" y="164" width="5" height="31"/>
<rect x="1079" y="165" width="3" height="29" fill="#159a7f"/>
<rect x="1085" y="158" width="1" height="6"/>
<rect x="1085" y="185" width="1" height="13"/>
<rect x="1083" y="164" width="5" height="21"/>
<rect x="1084" y="165" width="3" height="19" fill="#e4434f"/>
<rect x="1090" y="166" width="1" height="14"/>
<rect x="1090" y="186" width="1" height="5"/>
<rect x="1088" y="180" width="5" height="6"/>
<rect x="1089" y="181" width="3" height="4" fill="#159a7f"/>
<rect x="1095" y="169" width="1" height="6"/>
<rect x="1095" y="182" width="1" height="6"/>
<rect x="1093" y="175" width="5" height="7"/>
<rect x="1094" y="176" width="3" height="5" fill="#159a7f"/>
<rect x="1100" y="176" width="1" height="3"/>
<rect x="1098" y="150" width="5" height="26"/>
<rect x="1099" y="151" width="3" height="24" fill="#159a7f"/>
<rect x="1105" y="114" width="1" height="25"/>
<rect x="1105" y="150" width="1" height="5"/>
<rect x="1103" y="139" width="5" height="11"/>
<rect x="1104" y="140" width="3" height="9" fill="#159a7f"/>
<rect x="1110" y="124" width="1" height="15"/>
<rect x="1110" y="200" width="1" height="23"/>
<rect x="1108" y="139" width="5" height="61"/>
<rect x="1109" y="140" width="3" height="59" fill="#e4434f"/>
<rect x="1115" y="169" width="1" height="17"/>
<rect x="1115" y="197" width="1" height="3"/>
<rect x="1113" y="186" width="5" height="11"/>
<rect x="1114" y="187" width="3" height="9" fill="#159a7f"/>
<rect x="1120" y="172" width="1" height="15"/>
<rect x="1120" y="201" width="1" height="8"/>
<rect x="1118" y="187" width="5" height="14"/>
<rect x="1119" y="188" width="3" height="12" fill="#e4434f"/>
<rect x="1125" y="177" width="1" height="1"/>
<rect x="1125" y="201" width="1" height="5"/>
<rect x="1123" y="178" width="5" height="23"/>
<rect x="1124" y="179" width="3" height="21" fill="#159a7f"/>
<rect x="1130" y="171" width="1" height="5"/>
<rect x="1130" y="187" width="1" height="31"/>
<rect x="1128" y="176" width="5" height="11"/>
<rect x="1129" y="177" width="3" height="9" fill="#e4434f"/>
<rect x="1135" y="160" width="1" height="13"/>
<rect x="1135" y="187" width="1" height="5"/>
<rect x="1133" y="173" width="5" height="14"/>
<rect x="1134" y="174" width="3" height="12" fill="#159a7f"/>
<rect x="1140" y="164" width="1" height="10"/>
<rect x="1140" y="178" width="1" height="6"/>
<rect x="1138" y="174" width="5" height="4"/>
<rect x="1139" y="175" width="3" height="2" fill="#e4434f"/>
<rect x="1146" y="173" width="1" height="4"/>
<rect x="1146" y="203" width="1" height="5"/>
<rect x="1144" y="177" width="5" height="26"/>
<rect x="1145" y="178" width="3" height="24" fill="#e4434f"/>
<rect x="1151" y="189" width="1" height="12"/>
<rect x="1151" y="218" width="1" height="2"/>
<rect x="1149" y="201" width="5" height="17"/>
<rect x="1150" y="202" width="3" height="15" fill="#e4434f"/>
<rect x="1156" y="212" width="1" height="8"/>
<rect x="1156" y="221" width="1" height="10"/>
<rect x="1154" y="220" width="5" height="1"/>
<rect x="1161" y="211" width="1" height="9"/>
<rect x="1161" y="221" width="1" height="8"/>
<rect x="1159" y="220" width="5" height="1"/>
<rect x="1166" y="218" width="1" height="3"/>
<rect x="1166" y="270" width="1" height="2"/>
<rect x="1164" y="221" width="5" height="49"/>
<rect x="1165" y="222" width="3" height="47" fill="#e4434f"/>
<rect x="1171" y="257" width="1" height="9"/>
<rect x="1171" y="313" width="1" height="38"/>
<rect x="1169" y="266" width="5" height="47"/>
<rect x="1170" y="267" width="3" height="45" fill="#e4434f"/>
<rect x="1176" y="290" width="1" height="22"/>
<rect x="1176" y="355" width="1" height="2"/>
<rect x="1174" y="312" width="5" height="43"/>
<rect x="1175" y="313" width="3" height="41" fill="#e4434f"/>
<rect x="1181" y="342" width="1" height="18"/>
<rect x="1181" y="376" width="1" height="79"/>
<rect x="1179" y="360" width="5" height="16"/>
<rect x="1180" y="361" width="3" height="14" fill="#e4434f"/>
<rect x="1186" y="356" width="1" height="3"/>
<rect x="1186" y="374" width="1" height="28"/>
<rect x="1184" y="359" width="5" height="15"/>
<rect x="1185" y="360" width="3" height="13" fill="#159a7f"/>
<rect x="1191" y="325" width="1" height="14"/>
<rect x="1191" y="360" width="1" height="3"/>
<rect x="1189" y="339" width="5" height="21"/>
<rect x="1190" y="340" width="3" height="19" fill="#159a7f"/>
</g>
<g fill="#131722" font-size="15" stroke="#131722" stroke-width="0.2">
<text x="2.5" y="13.6" textLength="31.3" lengthAdjust="spacingAndGlyphs">CFDs</text>
<text x="39" y="13.6" textLength="15.4" lengthAdjust="spacingAndGlyphs">on</text>
<text x="59.8" y="13.6" textLength="30.1" lengthAdjust="spacingAndGlyphs">Gold</text>
<text x="96.1" y="13.6" textLength="28.7" lengthAdjust="spacingAndGlyphs">(US$</text>
<text x="133.9" y="13.6" text-anchor="middle">/</text>
<text x="142.7" y="13.6" textLength="22.5" lengthAdjust="spacingAndGlyphs">OZ)</text>
<text x="172.8" y="13.6" text-anchor="middle">·</text>
<text x="182.3" y="13.6" textLength="15" lengthAdjust="spacingAndGlyphs">1D</text>
<text x="204.2" y="13.6" text-anchor="middle">·</text>
<text x="213.8" y="13.6" textLength="24" lengthAdjust="spacingAndGlyphs">TVC</text>
<text x="248.2" y="13.6" textLength="75.1" lengthAdjust="spacingAndGlyphs">O4,470.180</text>
<text x="334" y="13.6" textLength="73.2" lengthAdjust="spacingAndGlyphs">H4,602.631</text>
<text x="418.8" y="13.6" textLength="72" lengthAdjust="spacingAndGlyphs">L4,456.092</text>
<text x="501.1" y="13.6" textLength="73.8" lengthAdjust="spacingAndGlyphs">C4,546.984</text>
<text x="585.9" y="13.6" textLength="50.4" lengthAdjust="spacingAndGlyphs">+77.104</text>
<text x="642.8" y="13.6" textLength="55.3" lengthAdjust="spacingAndGlyphs">(+1.72%)</text>
</g>
<g fill="#131722" font-size="15.8" stroke="#131722" stroke-width="0.2">
<text x="1302.6" y="123" textLength="65.4" lengthAdjust="spacingAndGlyphs">5,400.000</text>
<text x="1302.6" y="174.7" textLength="65.4" lengthAdjust="spacingAndGlyphs">5,200.000</text>
<text x="1302.6" y="226.5" textLength="65.4" lengthAdjust="spacingAndGlyphs">5,000.000</text>
<text x="1302.6" y="278.2" textLength="65.4" lengthAdjust="spacingAndGlyphs">4,800.000</text>
<text x="1302.6" y="329.9" textLength="65.4" lengthAdjust="spacingAndGlyphs">4,600.000</text>
<text x="1302.6" y="381.6" textLength="65.4" lengthAdjust="spacingAndGlyphs">4,400.000</text>
<text x="1302.6" y="433.4" textLength="65.4" lengthAdjust="spacingAndGlyphs">4,200.000</text>
<text x="1302.6" y="485.1" textLength="65.4" lengthAdjust="spacingAndGlyphs">4,000.000</text>
<text x="1302.6" y="536.8" textLength="65.4" lengthAdjust="spacingAndGlyphs">3,800.000</text>
<text x="1302.6" y="588.6" textLength="65.4" lengthAdjust="spacingAndGlyphs">3,600.000</text>
<text x="1302.6" y="640.3" textLength="65.4" lengthAdjust="spacingAndGlyphs">3,400.000</text>
<text x="1302.6" y="692" textLength="65.4" lengthAdjust="spacingAndGlyphs">3,200.000</text>
<text x="1302.6" y="743.8" textLength="65.4" lengthAdjust="spacingAndGlyphs">3,000.000</text>
<text x="35.1" y="794.8" textLength="26.1" lengthAdjust="spacingAndGlyphs">May</text>
<text x="144" y="794.8" textLength="22.1" lengthAdjust="spacingAndGlyphs">Jun</text>
<text x="247.4" y="794.8" textLength="18.5" lengthAdjust="spacingAndGlyphs">Jul</text>
<text x="356.2" y="794.8" textLength="24.1" lengthAdjust="spacingAndGlyphs">Aug</text>
<text x="462.6" y="794.8" textLength="23.6" lengthAdjust="spacingAndGlyphs">Sep</text>
<text x="570.5" y="794.8" textLength="22.6" lengthAdjust="spacingAndGlyphs">Oct</text>
<text x="686.6" y="794.8" textLength="24.5" lengthAdjust="spacingAndGlyphs">Nov</text>
<text x="782.9" y="794.8" textLength="24.1" lengthAdjust="spacingAndGlyphs">Dec</text>
<text x="889.8" y="794.8" textLength="34.1" lengthAdjust="spacingAndGlyphs" font-weight="bold">2026</text>
<text x="996.1" y="794.8" textLength="24.1" lengthAdjust="spacingAndGlyphs">Feb</text>
<text x="1092.5" y="794.8" textLength="24.1" lengthAdjust="spacingAndGlyphs">Mar</text>
<text x="1205.4" y="794.8" textLength="22.6" lengthAdjust="spacingAndGlyphs">Apr</text>
</g>
<rect x="1296.5" y="-6" width="79.5" height="31.2" rx="4" fill="#fff" stroke="#ecedf1" stroke-width="1"/>
<text x="1307.6" y="14.7" font-size="16" fill="#131722" stroke="#131722" stroke-width="0.2" textLength="25.5" lengthAdjust="spacingAndGlyphs">USD</text>
<path d="M1292 329.2H1372.5Q1375 329.2 1375 331.7V365.2Q1375 367.7 1372.5 367.7H1292Z" fill="#0f9981"/><path d="M1292 58H1373Q1375 58 1375 60V76.5Q1375 78.5 1373 78.5H1292Z" fill="#1a48cc"/><path d="M1292 501.1H1373Q1375 501.1 1375 503.1V519.7Q1375 521.7 1373 521.7H1292Z" fill="#1a48cc"/>
<g fill="#fff" font-size="16.3">
<text x="1303.3" y="72.9" stroke="#fff" stroke-width="0.5" textLength="65" lengthAdjust="spacingAndGlyphs">5,596.495</text>
<text x="1303.1" y="515.9" stroke="#fff" stroke-width="0.5" textLength="66" lengthAdjust="spacingAndGlyphs">3,883.995</text>
<text x="1303.2" y="343.7" stroke="#fff" stroke-width="0.5" textLength="65.5" lengthAdjust="spacingAndGlyphs">4,546.984</text>
<text x="1304.4" y="361.9" font-size="15.6" fill-opacity="0.82" stroke="#fff" stroke-opacity="0.8" stroke-width="0.2" textLength="55" lengthAdjust="spacingAndGlyphs">13:23:21</text>
</g>
</svg>
</body></html>
